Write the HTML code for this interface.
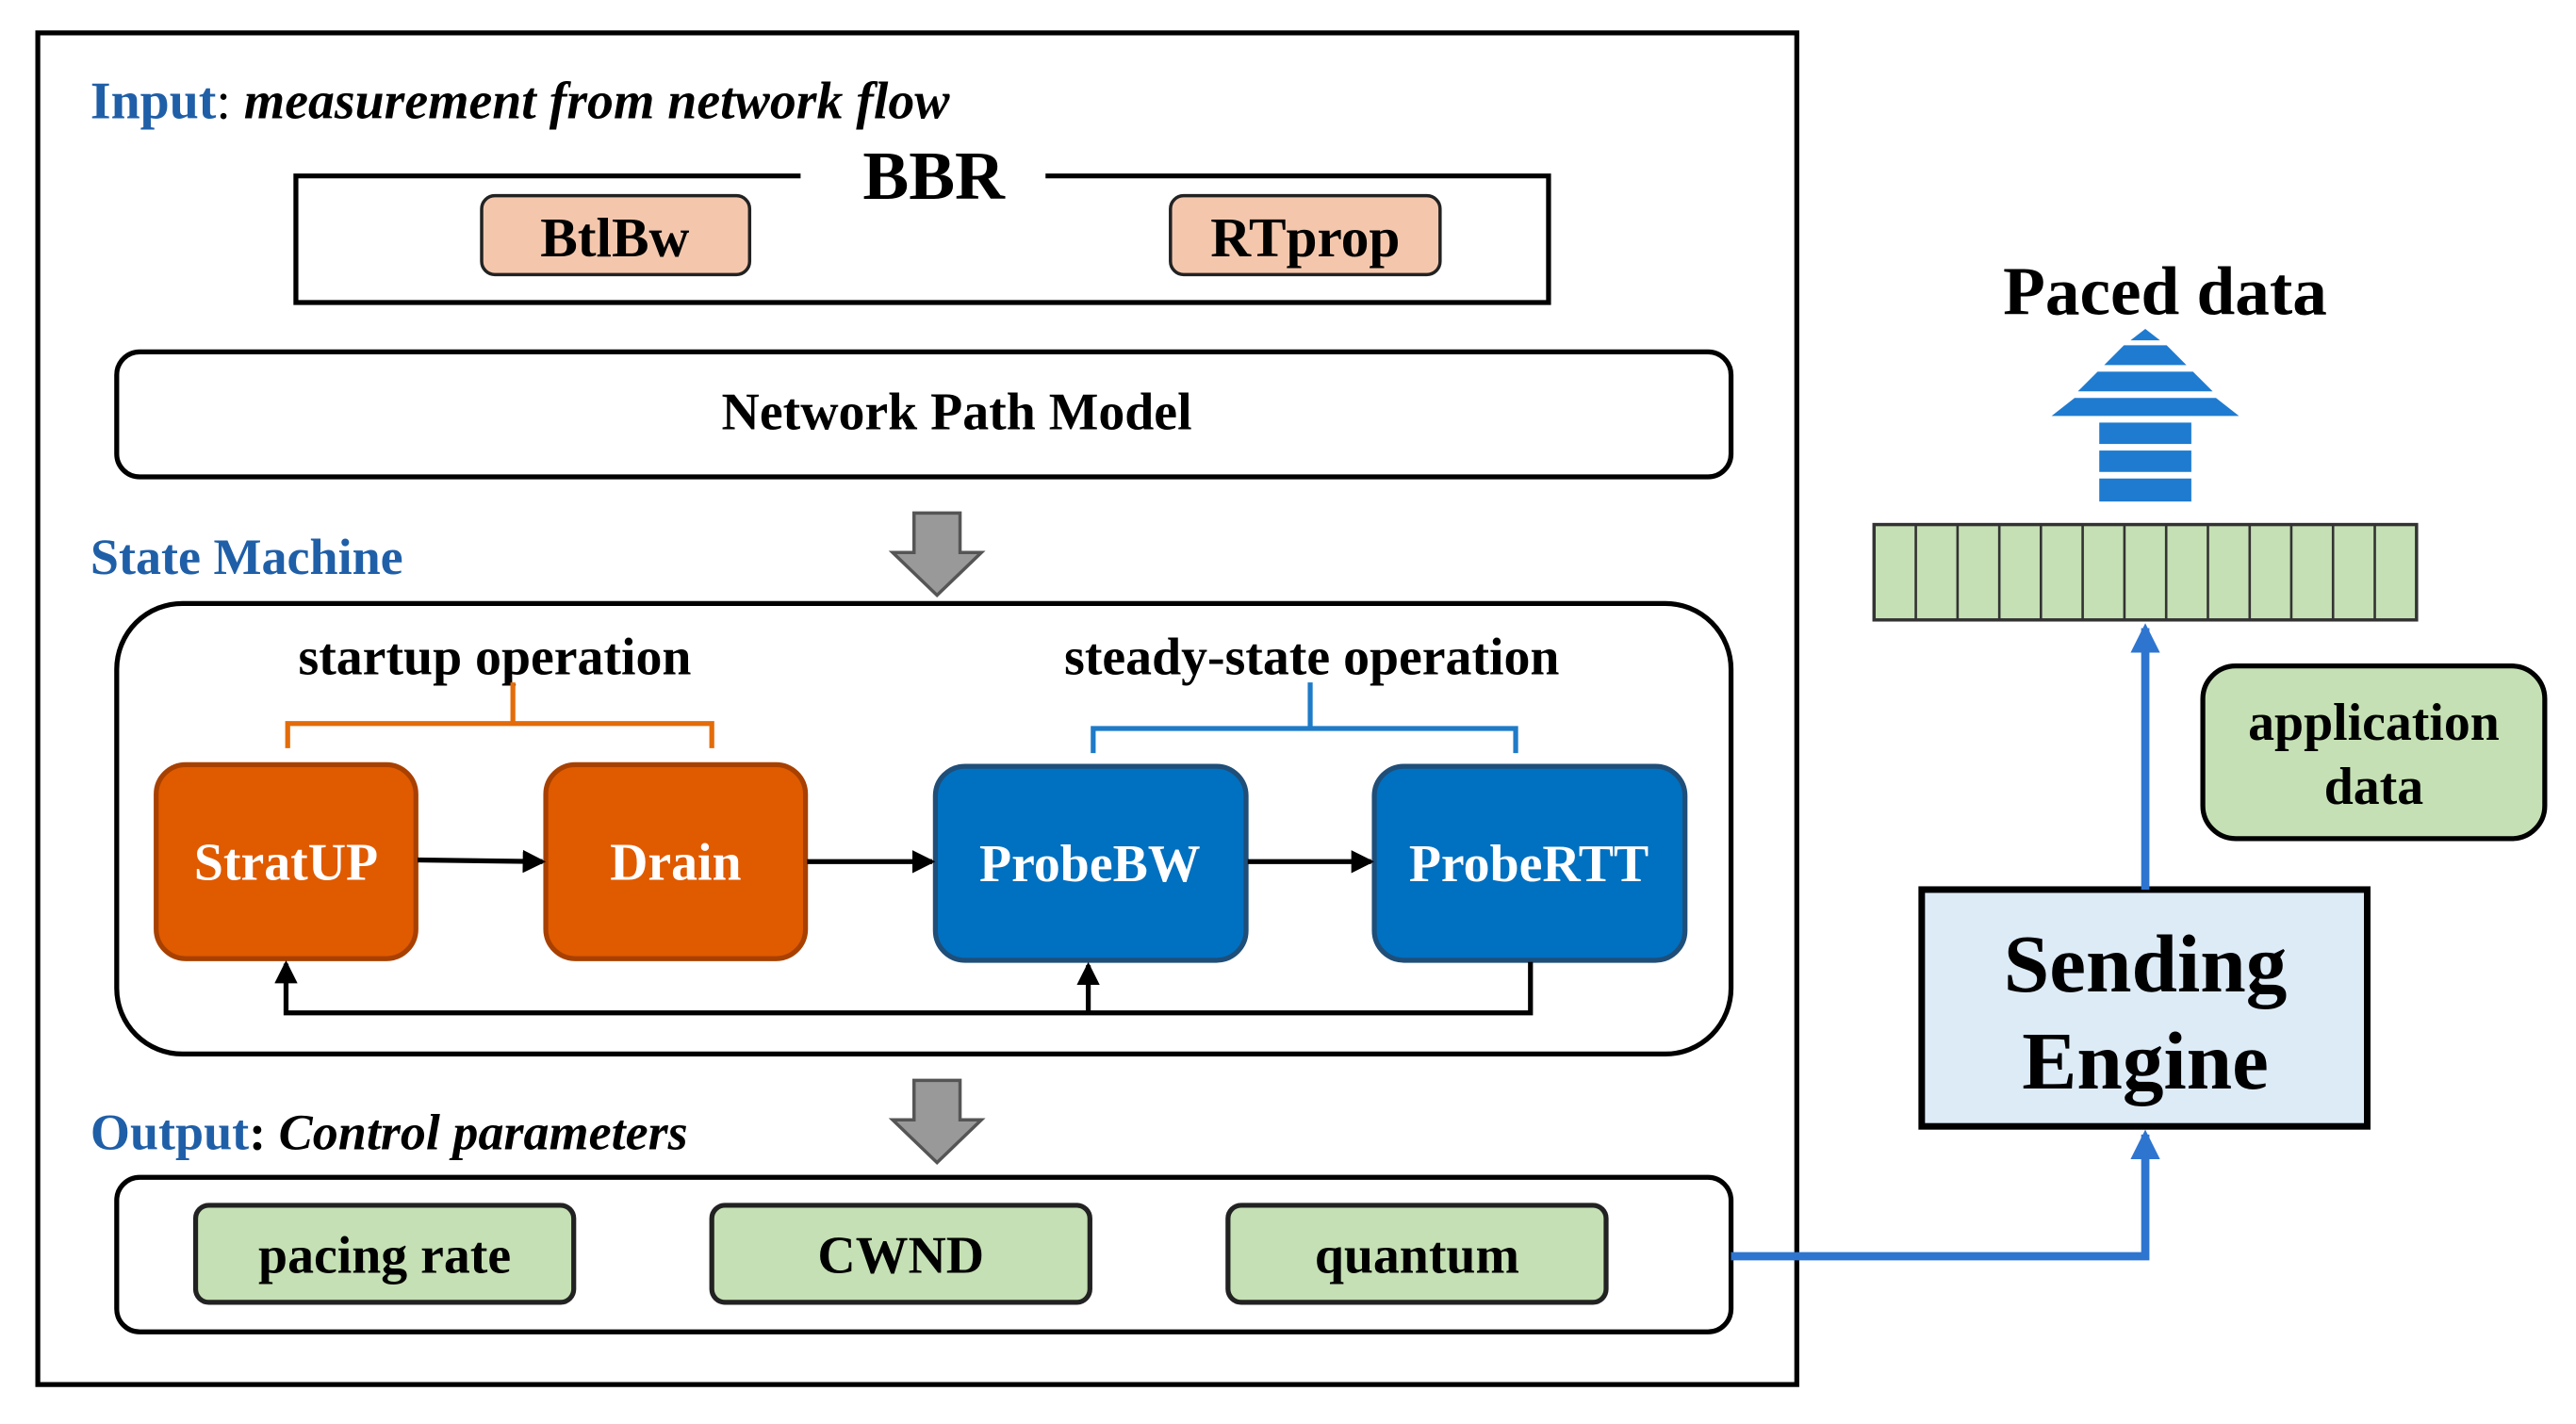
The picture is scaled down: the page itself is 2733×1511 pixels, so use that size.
<!DOCTYPE html>
<html><head><meta charset="utf-8"><style>
html,body{margin:0;padding:0;background:#fff;}
svg{display:block;}
text{font-family:"Liberation Serif",serif;font-weight:bold;}
</style></head><body>
<svg width="2733" height="1511" viewBox="0 0 1567 866" preserveAspectRatio="none" xmlns="http://www.w3.org/2000/svg">
<defs>
<marker id="ab2" markerWidth="14" markerHeight="14" refX="12" refY="7" orient="auto" markerUnits="userSpaceOnUse"><path d="M0,0 L14,7 L0,14 z" fill="#000"/></marker>
<marker id="abl" markerWidth="18" markerHeight="18" refX="15" refY="9" orient="auto" markerUnits="userSpaceOnUse"><path d="M0,0 L18,9 L0,18 z" fill="#2e75d0"/></marker>
</defs>
<rect x="23" y="20" width="1070" height="822" fill="none" stroke="#000" stroke-width="3"/>
<text x="55" y="72" font-size="32" fill="#1f5fa8">Input<tspan fill="#000" font-weight="normal">: </tspan><tspan fill="#000" font-style="italic">measurement from network flow</tspan></text>
<path d="M487,107 L180,107 L180,184 L942,184 L942,107 L636,107" fill="none" stroke="#000" stroke-width="3"/>
<text x="568" y="121" font-size="42" text-anchor="middle">BBR</text>
<rect x="293" y="119" width="163" height="48" rx="8" fill="#f4c7ad" stroke="#222" stroke-width="2"/>
<text x="374" y="156" font-size="34" text-anchor="middle">BtlBw</text>
<rect x="712" y="119" width="164" height="48" rx="8" fill="#f4c7ad" stroke="#222" stroke-width="2"/>
<text x="794" y="156" font-size="34" text-anchor="middle">RTprop</text>
<rect x="71" y="214" width="982" height="76" rx="14" fill="#fff" stroke="#000" stroke-width="3"/>
<text x="582" y="261" font-size="32" text-anchor="middle">Network Path Model</text>
<path d="M556,312 L584,312 L584,336 L597,336 L570,362 L543,336 L556,336 z" fill="#999" stroke="#555" stroke-width="2"/>
<text x="55" y="349" font-size="31" fill="#1f5fa8">State Machine</text>
<rect x="71" y="367" width="982" height="274" rx="40" fill="#fff" stroke="#000" stroke-width="3"/>
<text x="301" y="410" font-size="32" text-anchor="middle">startup operation</text>
<text x="798" y="410" font-size="32" text-anchor="middle">steady-state operation</text>
<path d="M175,455 L175,440 L433,440 L433,455 M312,440 L312,415" fill="none" stroke="#e36c0a" stroke-width="3"/>
<path d="M665,458 L665,443 L922,443 L922,458 M797,443 L797,415" fill="none" stroke="#1e7bc8" stroke-width="3"/>
<rect x="95" y="465" width="158" height="118" rx="18" fill="#e05a00" stroke="#a84000" stroke-width="3"/>
<text x="174" y="535" font-size="32" fill="#fff" text-anchor="middle">StratUP</text>
<rect x="332" y="465" width="158" height="118" rx="18" fill="#e05a00" stroke="#a84000" stroke-width="3"/>
<text x="411" y="535" font-size="32" fill="#fff" text-anchor="middle">Drain</text>
<rect x="569" y="466" width="189" height="118" rx="18" fill="#0070c0" stroke="#1f4e79" stroke-width="3"/>
<text x="663" y="536" font-size="32" fill="#fff" text-anchor="middle">ProbeBW</text>
<rect x="836" y="466" width="189" height="118" rx="18" fill="#0070c0" stroke="#1f4e79" stroke-width="3"/>
<text x="930" y="536" font-size="32" fill="#fff" text-anchor="middle">ProbeRTT</text>
<line x1="254" y1="523" x2="330" y2="524" stroke="#000" stroke-width="3" marker-end="url(#ab2)"/>
<line x1="491" y1="524" x2="567" y2="524" stroke="#000" stroke-width="3" marker-end="url(#ab2)"/>
<line x1="759" y1="524" x2="834" y2="524" stroke="#000" stroke-width="3" marker-end="url(#ab2)"/>
<path d="M931,585 L931,616 L174,616 L174,586" fill="none" stroke="#000" stroke-width="3" marker-end="url(#ab2)"/>
<line x1="662" y1="616" x2="662" y2="587" stroke="#000" stroke-width="3" marker-end="url(#ab2)"/>
<path d="M556,657 L584,657 L584,681 L597,681 L570,707 L543,681 L556,681 z" fill="#999" stroke="#555" stroke-width="2"/>
<text x="55" y="699" font-size="31" fill="#1f5fa8">Output<tspan fill="#000">: </tspan><tspan fill="#000" font-style="italic">Control parameters</tspan></text>
<rect x="71" y="716" width="982" height="94" rx="14" fill="#fff" stroke="#000" stroke-width="3"/>
<rect x="119" y="733" width="230" height="59" rx="8" fill="#c5e0b4" stroke="#222" stroke-width="3"/>
<text x="234" y="774" font-size="32" text-anchor="middle">pacing rate</text>
<rect x="433" y="733" width="230" height="59" rx="8" fill="#c5e0b4" stroke="#222" stroke-width="3"/>
<text x="548" y="774" font-size="32" text-anchor="middle">CWND</text>
<rect x="747" y="733" width="230" height="59" rx="8" fill="#c5e0b4" stroke="#222" stroke-width="3"/>
<text x="862" y="774" font-size="32" text-anchor="middle">quantum</text>
<path d="M1053,764 L1305,764 L1305,690" fill="none" stroke="#2e75d0" stroke-width="5" marker-end="url(#abl)"/>
<rect x="1169" y="541" width="271" height="144" fill="#ddebf7" stroke="#000" stroke-width="4"/>
<text x="1305" y="603" font-size="50" text-anchor="middle">Sending</text>
<text x="1305" y="662" font-size="50" text-anchor="middle">Engine</text>
<line x1="1305" y1="541" x2="1305" y2="382" stroke="#2e75d0" stroke-width="5" marker-end="url(#abl)"/>
<rect x="1140" y="319" width="330" height="58" fill="#c5e0b4" stroke="#333" stroke-width="2"/>
<g stroke="#333" stroke-width="1.5">
<line x1="1165.4" y1="319" x2="1165.4" y2="377"/><line x1="1190.8" y1="319" x2="1190.8" y2="377"/><line x1="1216.2" y1="319" x2="1216.2" y2="377"/><line x1="1241.5" y1="319" x2="1241.5" y2="377"/><line x1="1266.9" y1="319" x2="1266.9" y2="377"/><line x1="1292.3" y1="319" x2="1292.3" y2="377"/><line x1="1317.7" y1="319" x2="1317.7" y2="377"/><line x1="1343.1" y1="319" x2="1343.1" y2="377"/><line x1="1368.5" y1="319" x2="1368.5" y2="377"/><line x1="1393.8" y1="319" x2="1393.8" y2="377"/><line x1="1419.2" y1="319" x2="1419.2" y2="377"/><line x1="1444.6" y1="319" x2="1444.6" y2="377"/>
</g>
<rect x="1340" y="405" width="208" height="105" rx="20" fill="#c5e0b4" stroke="#000" stroke-width="3"/>
<text x="1444" y="450" font-size="32" text-anchor="middle">application</text>
<text x="1444" y="489" font-size="32" text-anchor="middle">data</text>
<text x="1317" y="191" font-size="42" text-anchor="middle">Paced data</text>
<g fill="#1e7bd0">
<polygon points="1305,200 1314,207 1296,207"/>
<polygon points="1292,210 1318,210 1330,222 1280,222"/>
<polygon points="1276,226 1334,226 1346,238 1264,238"/>
<polygon points="1262,242 1348,242 1362,253 1248,253"/>
<rect x="1277" y="257" width="56" height="13"/>
<rect x="1277" y="274" width="56" height="13"/>
<rect x="1277" y="291" width="56" height="14"/>
</g>
</svg>
</body></html>
